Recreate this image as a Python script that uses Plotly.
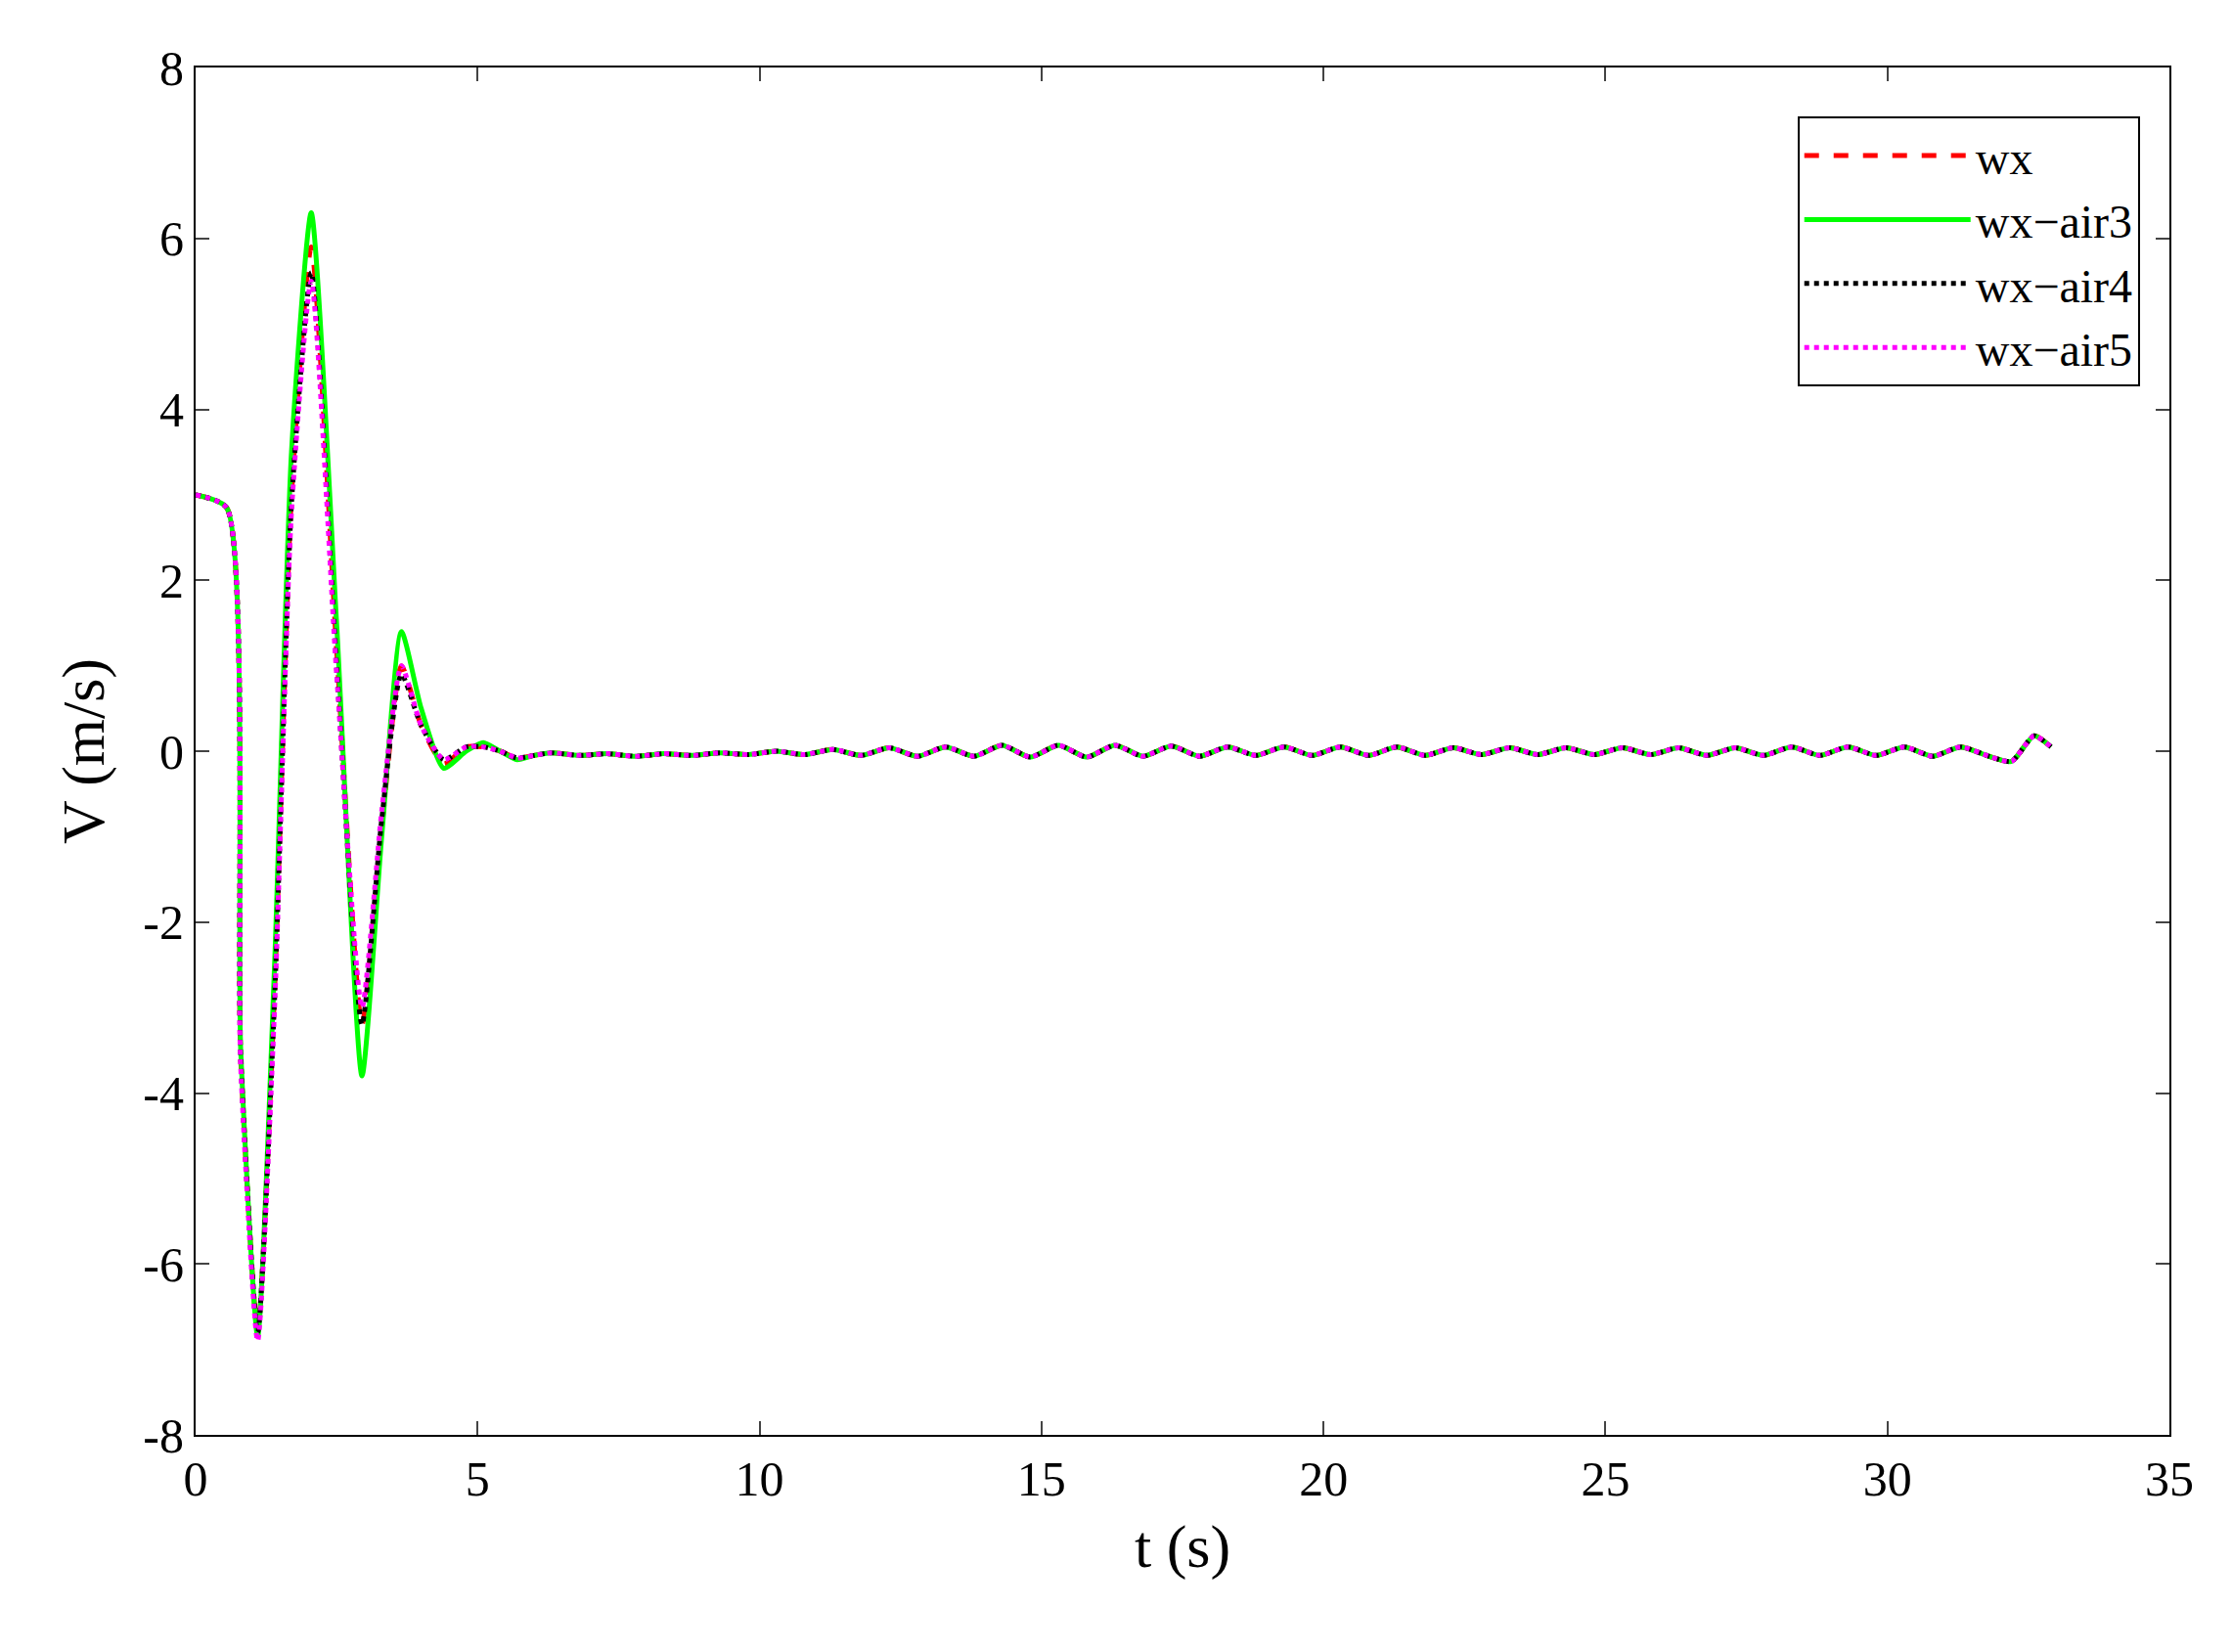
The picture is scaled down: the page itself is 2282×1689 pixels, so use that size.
import numpy as np
import plotly.graph_objects as go

# transient part (t < 6 s)
t_head = [0, 0.55, 0.8, 1.1, 1.4, 1.7, 2.05, 2.5, 2.95, 3.3, 3.65, 4.0, 4.4, 4.8, 5.1, 5.4, 5.7, 6.0]
wx_head = [3, 2.85, -3.6, -6.8, -2.8, 3.0, 5.9, 1.2, -3.2, -0.9, 1.0, 0.3, -0.15, 0.05, 0.05, 0.0, -0.08, -0.05]
air3_head = [3, 2.85, -3.5, -6.85, -2.5, 3.5, 6.3, 1.5, -3.8, -1.0, 1.4, 0.5, -0.2, 0.0, 0.1, 0.0, -0.1, -0.05]
air4_head = [3, 2.85, -3.6, -6.8, -2.9, 2.9, 5.6, 1.0, -3.2, -0.8, 0.9, 0.3, -0.1, 0.05, 0.05, 0.0, -0.08, -0.05]
air5_head = [3, 2.85, -3.7, -6.9, -3.0, 2.8, 5.5, 0.9, -3.0, -0.7, 1.0, 0.3, -0.1, 0.05, 0.05, 0.0, -0.08, -0.05]

# small steady ripple, shared by all series
t_tail = [6.3 + 0.5 * i for i in range(52)] + [32.2, 32.6, 32.9]
v_tail = [-0.02, -0.05, -0.03, -0.06, -0.03, -0.05, -0.02, -0.04, 0.0, -0.04, 0.02, -0.05,
          0.04, -0.06, 0.05, -0.06, 0.07, -0.07, 0.07, -0.07, 0.07, -0.06, 0.06, -0.06,
          0.05, -0.05, 0.05, -0.05, 0.05, -0.05, 0.05, -0.05, 0.04, -0.04, 0.04, -0.04,
          0.04, -0.04, 0.04, -0.04, 0.04, -0.05, 0.04, -0.05, 0.05, -0.05, 0.05, -0.05,
          0.05, -0.06, 0.05, -0.06, -0.12, 0.18, 0.05]

y_ticks = [-8, -6, -4, -2, 0, 2, 4, 6, 8]
x_ticks = [0, 5, 10, 15, 20, 25, 30, 35]

t = t_head + t_tail
series = [
    ("wx", wx_head, "#ff0000", "dash"),
    ("wx\u2212air3", air3_head, "#00ff00", "solid"),
    ("wx\u2212air4", air4_head, "#000000", "dot"),
    ("wx\u2212air5", air5_head, "#ff00ff", "dot"),
]

fig = go.Figure()
for name, head, color, dash in series:
    fig.add_trace(go.Scatter(
        x=t, y=head + v_tail, name=name, mode="lines",
        line=dict(color=color, dash=dash, width=5, shape="spline", smoothing=0.6),
    ))

axis = dict(showgrid=False, zeroline=False, showline=True, linecolor="black", linewidth=2,
            mirror="ticks", ticks="inside", ticklen=14, tickwidth=2,
            tickfont=dict(size=50, color="black"))
fig.update_xaxes(axis, range=[0, 35], tickvals=x_ticks, ticktext=[str(v) for v in x_ticks],
                 title=dict(text="t (s)", font=dict(size=62), standoff=20))
fig.update_yaxes(axis, range=[-8, 8], tickvals=y_ticks, ticktext=[str(v) for v in y_ticks],
                 title=dict(text="V (m/s)", font=dict(size=62), standoff=20))
fig.update_layout(
    width=2282, height=1689, plot_bgcolor="white", paper_bgcolor="white",
    font=dict(family="Liberation Serif", color="black"),
    margin=dict(l=192, r=72, t=61, b=230),
    legend=dict(x=0.985, y=0.964, xanchor="right", yanchor="top", bgcolor="white",
                bordercolor="black", borderwidth=2, font=dict(size=48),
                itemwidth=170, tracegroupgap=0),
)
fig.write_html("out.html")
